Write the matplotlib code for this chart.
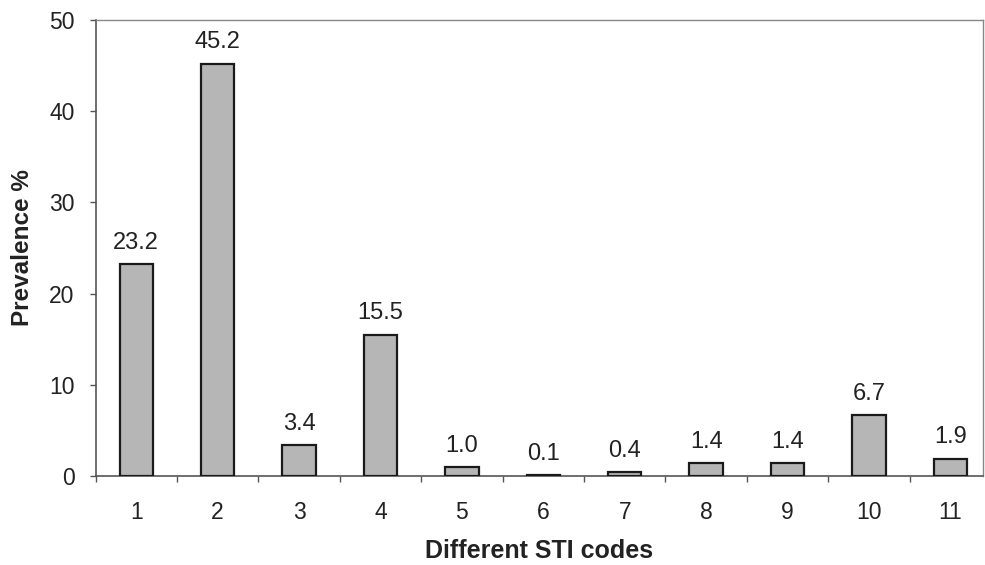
import matplotlib
matplotlib.use("Agg")
import matplotlib.pyplot as plt
import numpy as np

categories = ["1", "2", "3", "4", "5", "6", "7", "8", "9", "10", "11"]
prevalence = [23.2, 45.2, 3.4, 15.5, 1.0, 0.1, 0.4, 1.4, 1.4, 6.7, 1.9]
value_labels = ["23.2", "45.2", "3.4", "15.5", "1.0", "0.1", "0.4", "1.4", "1.4", "6.7", "1.9"]
yticks = [0, 10, 20, 30, 40, 50]

plt.rcParams['font.family'] = ['Liberation Sans', 'DejaVu Sans']

W, H = 985, 565
fig = plt.figure(figsize=(W / 100, H / 100), dpi=100)
left_px, right_px, top_px, bottom_px = 95.5, 983, 20, 476
ax = fig.add_axes([left_px / W, (H - bottom_px) / H,
                   (right_px - left_px) / W, (bottom_px - top_px) / H])

x = np.arange(len(categories))
ax.bar(x, prevalence, width=0.41, color='#b6b6b6', edgecolor='#1a1a1a', linewidth=1.6, zorder=3)

for xi, v, lab in zip(x, prevalence, value_labels):
    ax.annotate(lab, (xi, v), xytext=(0, 11), textcoords='offset points',
                ha='center', va='baseline', fontsize=17, color='#222222')

ax.set_xlim(-0.5, 10.4)
ax.set_ylim(0, 50)
ax.set_yticks(yticks)
ax.set_yticklabels([str(t) for t in yticks], fontsize=16.5, color='#222222')

ax.set_xticks(x)
ax.set_xticklabels(categories, fontsize=16.5, color='#222222')
ax.tick_params(axis='x', which='major', length=0, pad=18)
ax.set_xticks(np.arange(-0.5, 10.0, 1.0), minor=True)
ax.tick_params(axis='x', which='minor', length=4, width=1, color='#555555', direction='out')
ax.tick_params(axis='y', length=4, width=1, color='#555555', direction='out', pad=11)

for side in ['left', 'bottom']:
    ax.spines[side].set_color('#555555')
    ax.spines[side].set_linewidth(1.2)
for side in ['top', 'right']:
    ax.spines[side].set_color('#888888')
    ax.spines[side].set_linewidth(1.0)

ax.set_xlabel("Different STI codes", fontsize=18, fontweight='bold', color='#222222', labelpad=11)
ax.set_ylabel("Prevalence %", fontsize=17.5, fontweight='bold', color='#222222', labelpad=11)

fig.savefig("out.png", dpi=100)
